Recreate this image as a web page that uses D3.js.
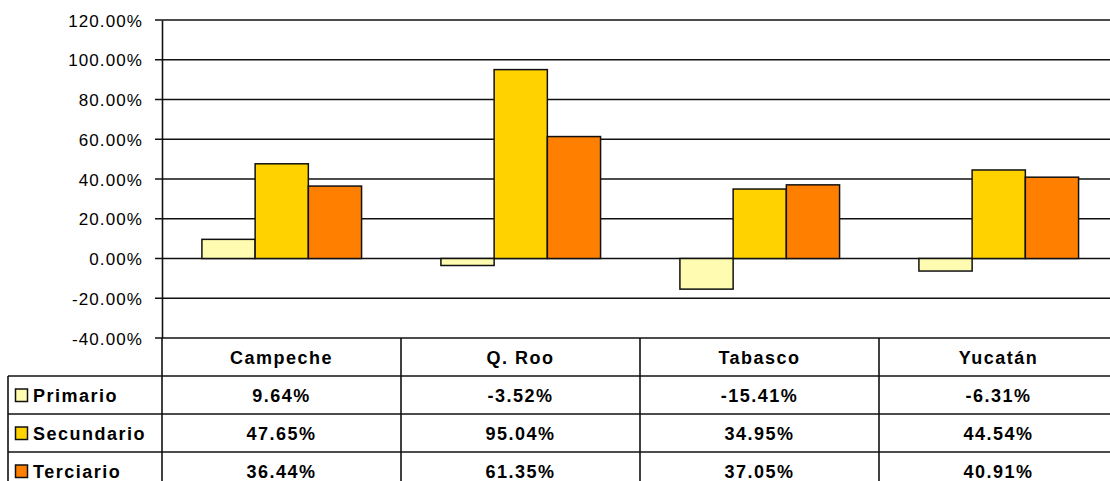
<!DOCTYPE html>
<html>
<head>
<meta charset="utf-8">
<script src="https://cdn.jsdelivr.net/npm/d3@7"></script>
<style>
  body { margin: 0; background: #fff; }
  svg { display: block; font-family: "Liberation Sans", Arial, sans-serif; }
</style>
</head>
<body>
<svg id="myGraph"></svg>
<script>
var width = 1110;
var height = 481;

// datos
var estados = ["Campeche", "Q. Roo", "Tabasco", "Yucatán"];
var sectores = ["Primario", "Secundario", "Terciario"];
var primario = [9.64, -3.52, -15.41, -6.31];
var secundario = [47.65, 95.04, 34.95, 44.54];
var terciario = [36.44, 61.35, 37.05, 40.91];
var yTicks = [-40, -20, 0, 20, 40, 60, 80, 100, 120];
var colores = ["#fffbb0", "#ffd200", "#ff8000"];

var valores = [primario, secundario, terciario];

var svg = d3.select("#myGraph")
    .attr("width", width)
    .attr("height", height);

var plotLeft = 162, plotRight = 1118, plotTop = 20, plotBottom = 338;
var rowH = 38;

var x0 = d3.scaleBand().domain(estados).range([plotLeft, plotRight]);
var x1 = d3.scaleBand().domain(sectores)
    .range([x0.bandwidth() * 0.167, x0.bandwidth() * 0.835]);
var y = d3.scaleLinear().domain([-40, 120]).range([plotBottom, plotTop]);

// grid lines
svg.append("g").selectAll("line")
    .data(yTicks)
    .enter().append("line")
    .attr("x1", plotLeft - 7)
    .attr("x2", plotRight)
    .attr("y1", function(d){ return y(d); })
    .attr("y2", function(d){ return y(d); })
    .attr("stroke", "#111")
    .attr("stroke-width", 1.6);

// y axis
var yAxis = d3.axisLeft(y).tickValues(yTicks).tickSize(0).tickPadding(19)
    .tickFormat(function(d){ return d.toFixed(2) + "%"; });
var gy = svg.append("g").attr("transform", "translate(" + plotLeft + ",0)").call(yAxis);
gy.select(".domain").attr("stroke", "#111").attr("stroke-width", 1.6);
gy.selectAll("text")
    .attr("fill", "#000")
    .style("font-size", "17px")
    .style("letter-spacing", "1.1px")
    .attr("dy", "0.36em");

// bars
var grupos = svg.append("g").selectAll("g")
    .data(estados)
    .enter().append("g")
    .attr("transform", function(d){ return "translate(" + x0(d) + ",0)"; });

grupos.selectAll("rect")
    .data(function(d, i){
        return sectores.map(function(s, j){ return {s: s, v: valores[j][i], c: colores[j]}; });
    })
    .enter().append("rect")
    .attr("x", function(d){ return x1(d.s); })
    .attr("width", x1.bandwidth())
    .attr("y", function(d){ return y(Math.max(0, d.v)); })
    .attr("height", function(d){ return Math.abs(y(d.v) - y(0)); })
    .attr("fill", function(d){ return d.c; })
    .attr("stroke", "#111")
    .attr("stroke-width", 1.5);

// data table
var tabla = svg.append("g");
var lineas = [];
lineas.push([plotLeft, plotBottom, plotLeft, height + 20]);
lineas.push([8, plotBottom + rowH, 8, height + 20]);
estados.forEach(function(e){
    lineas.push([x0(e) + x0.bandwidth(), plotBottom, x0(e) + x0.bandwidth(), height + 20]);
});
sectores.forEach(function(s, j){
    lineas.push([8, plotBottom + rowH * (j + 1), plotRight, plotBottom + rowH * (j + 1)]);
});
tabla.selectAll("line")
    .data(lineas)
    .enter().append("line")
    .attr("x1", function(d){ return d[0]; })
    .attr("y1", function(d){ return d[1]; })
    .attr("x2", function(d){ return d[2]; })
    .attr("y2", function(d){ return d[3]; })
    .attr("stroke", "#111")
    .attr("stroke-width", 1.6);

function texto(sel){
    return sel.attr("font-weight", "bold")
        .style("font-size", "18px")
        .style("letter-spacing", "1.5px")
        .attr("fill", "#000");
}

texto(tabla.append("g").selectAll("text")
    .data(estados)
    .enter().append("text")
    .attr("x", function(d){ return x0(d) + x0.bandwidth() / 2; })
    .attr("y", plotBottom + rowH / 2 + 6.5)
    .attr("text-anchor", "middle")
    .text(function(d){ return d; }));

sectores.forEach(function(s, j){
    var yy = plotBottom + rowH * (j + 1) + rowH / 2 + 6.5;
    tabla.append("rect")
        .attr("x", 15.5).attr("y", yy - 12.5)
        .attr("width", 12).attr("height", 12.5)
        .attr("fill", colores[j])
        .attr("stroke", "#111").attr("stroke-width", 1.5);
    texto(tabla.append("text").attr("x", 33).attr("y", yy).text(s));
    texto(tabla.append("g").selectAll("text")
        .data(valores[j])
        .enter().append("text")
        .attr("x", function(d, i){ return x0(estados[i]) + x0.bandwidth() / 2; })
        .attr("y", yy)
        .attr("text-anchor", "middle")
        .text(function(d){ return d.toFixed(2) + "%"; }));
});
</script>
</body>
</html>
